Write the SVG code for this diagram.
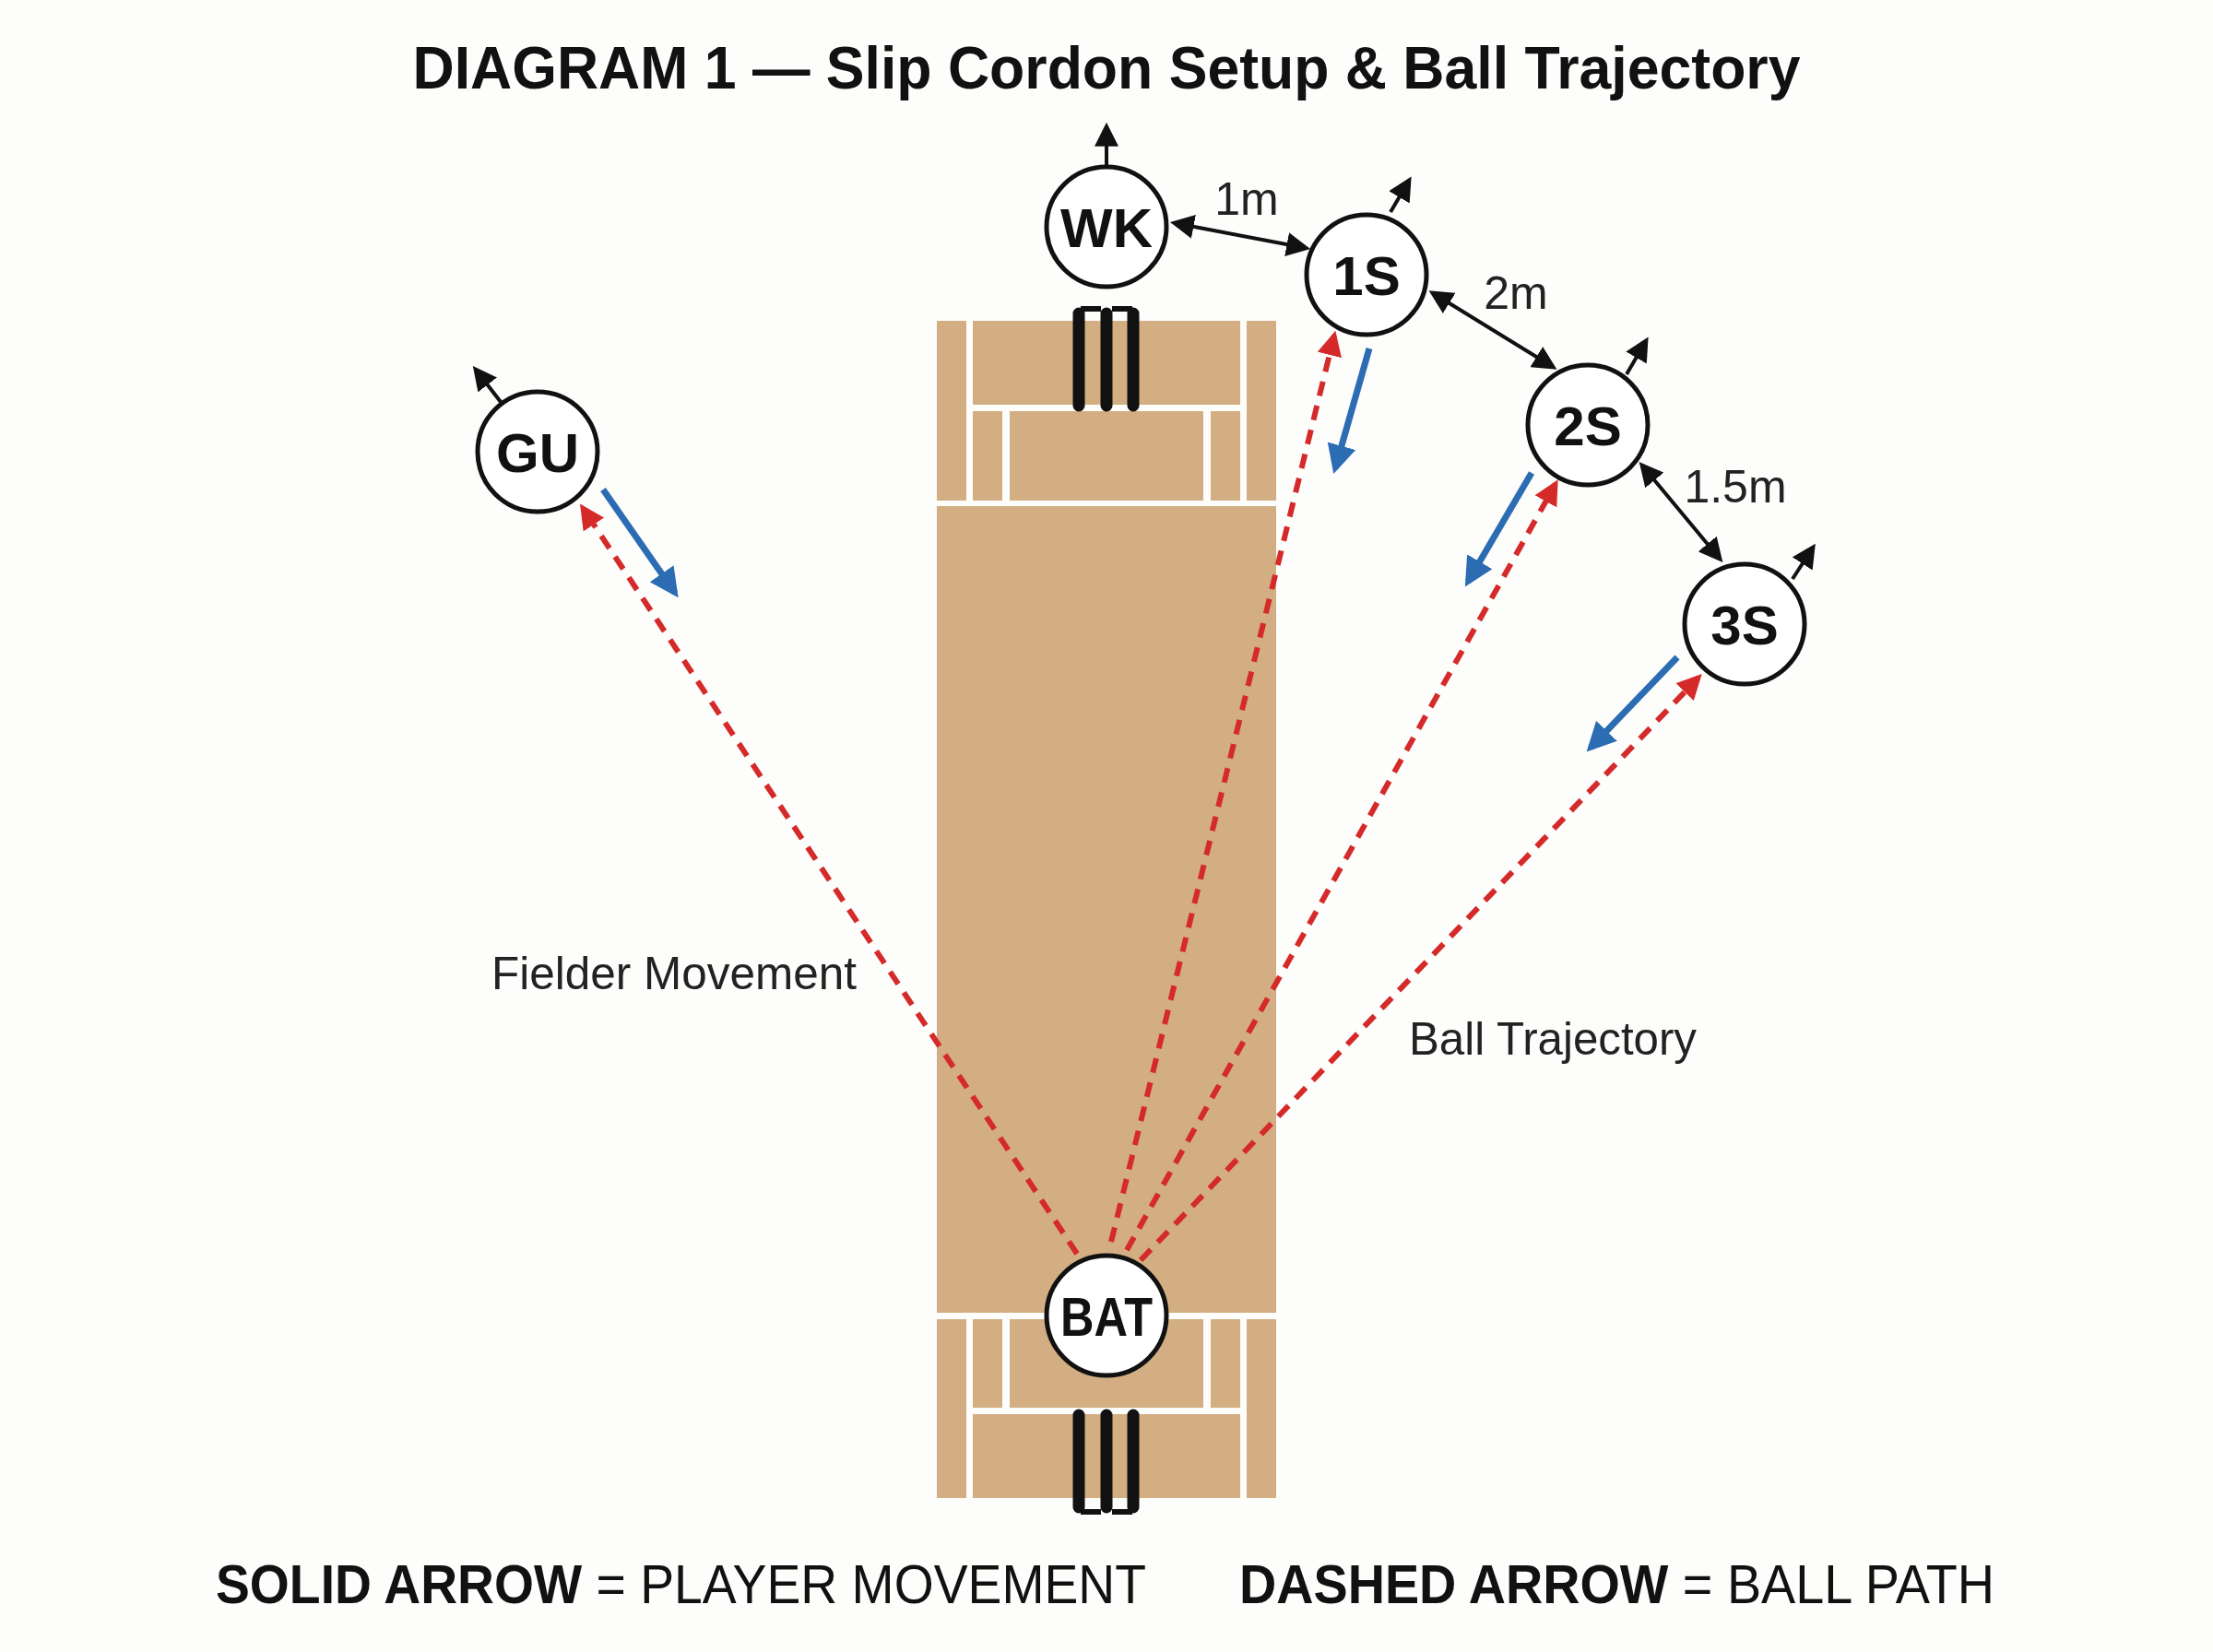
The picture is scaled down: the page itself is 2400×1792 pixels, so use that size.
<svg xmlns="http://www.w3.org/2000/svg" width="2400" height="1792" viewBox="0 0 2400 1792">
<style>
.pitch{fill:#d3ae82}
.stump{stroke:#111;stroke-width:13;stroke-linecap:round}
.node circle{fill:#fff;stroke:#111;stroke-width:5}
.node text{font-family:"Liberation Sans",Arial,sans-serif;font-weight:bold;font-size:60px;text-anchor:middle;fill:#111}
.blk{stroke:#111;stroke-width:4;fill:none}
.blue{stroke:#2b6cb3;stroke-width:7;fill:none}
.red{stroke:#d52a2a;stroke-width:6;fill:none;stroke-dasharray:16 11}
.lbl{font-family:"Liberation Sans",Arial,sans-serif;font-size:50px;fill:#222}
.leg{font-family:"Liberation Sans",Arial,sans-serif;font-size:60px;fill:#111}
</style>
<defs>
<marker id="ab" viewBox="0 0 10 10" refX="8" refY="5" markerWidth="6.5" markerHeight="6.5" orient="auto-start-reverse"><path d="M0,0 L10,5 L0,10 z" fill="#111"/></marker>
<marker id="ablue" viewBox="0 0 10 10" refX="8" refY="5" markerWidth="4.5" markerHeight="4.5" orient="auto"><path d="M0,0 L10,5 L0,10 z" fill="#2b6cb3"/></marker>
<marker id="ared" viewBox="0 0 10 10" refX="8" refY="5" markerWidth="4.5" markerHeight="4.5" orient="auto"><path d="M0,0 L10,5 L0,10 z" fill="#d52a2a"/></marker>
</defs>
<rect width="2400" height="1792" fill="#fdfdfb"/>
<text x="1200" y="96" text-anchor="middle" font-family="'Liberation Sans',Arial,sans-serif" font-weight="bold" font-size="64" fill="#111" textLength="1505" lengthAdjust="spacingAndGlyphs">DIAGRAM 1 — Slip Cordon Setup &amp; Ball Trajectory</text>
<g id="pitch">
<rect class="pitch" x="1016" y="348" width="32" height="195"/>
<rect class="pitch" x="1352" y="348" width="32" height="195"/>
<rect class="pitch" x="1055" y="348" width="290" height="91"/>
<rect class="pitch" x="1055" y="446" width="32" height="97"/>
<rect class="pitch" x="1095" y="446" width="210" height="97"/>
<rect class="pitch" x="1313" y="446" width="32" height="97"/>
<rect class="pitch" x="1016" y="549" width="368" height="875"/>
<rect class="pitch" x="1016" y="1431" width="32" height="194"/>
<rect class="pitch" x="1352" y="1431" width="32" height="194"/>
<rect class="pitch" x="1055" y="1431" width="32" height="96"/>
<rect class="pitch" x="1095" y="1431" width="210" height="96"/>
<rect class="pitch" x="1313" y="1431" width="32" height="96"/>
<rect class="pitch" x="1055" y="1534" width="290" height="91"/>
<path class="stump" d="M1170,340V440M1200,340V440M1229,340V440"/>
<path d="M1172,335h22M1206,335h22" stroke="#111" stroke-width="6"/>
<path class="stump" d="M1170,1535V1635M1200,1535V1635M1229,1535V1635"/>
<path d="M1172,1640h22M1206,1640h22" stroke="#111" stroke-width="6"/>
</g>
<g id="connectors">
<path class="red" marker-end="url(#ared)" d="M1168,1360L632,551"/>
<path class="red" marker-end="url(#ared)" d="M1205,1347L1447,364"/>
<path class="red" marker-end="url(#ared)" d="M1222,1356L1687,525"/>
<path class="red" marker-end="url(#ared)" d="M1237,1367L1842,735"/>
<path class="blue" marker-end="url(#ablue)" d="M654,531L732,643"/>
<path class="blue" marker-end="url(#ablue)" d="M1485,378L1448,508"/>
<path class="blue" marker-end="url(#ablue)" d="M1661,513L1592,631"/>
<path class="blue" marker-end="url(#ablue)" d="M1819,713L1725,811"/>
<path class="blk" marker-start="url(#ab)" marker-end="url(#ab)" d="M1274,242L1416,269"/>
<path class="blk" marker-start="url(#ab)" marker-end="url(#ab)" d="M1554,318L1684,398"/>
<path class="blk" marker-start="url(#ab)" marker-end="url(#ab)" d="M1781,505L1865,606"/>
<path class="blk" marker-end="url(#ab)" d="M1200,181L1200,138"/>
<path class="blk" marker-end="url(#ab)" d="M1508,230L1528,196"/>
<path class="blk" marker-end="url(#ab)" d="M1764,406L1785,370"/>
<path class="blk" marker-end="url(#ab)" d="M1944,628L1966,594"/>
<path class="blk" marker-end="url(#ab)" d="M543,436L516,401"/>
</g>
<g id="WK" class="node"><circle cx="1200" cy="246" r="65"/><text x="1200" y="268">WK</text></g>
<g id="S1" class="node"><circle cx="1482" cy="298" r="65"/><text x="1482" y="320">1S</text></g>
<g id="S2" class="node"><circle cx="1722" cy="461" r="65"/><text x="1722" y="483">2S</text></g>
<g id="S3" class="node"><circle cx="1892" cy="677" r="65"/><text x="1892" y="699">3S</text></g>
<g id="GU" class="node"><circle cx="583" cy="490" r="65"/><text x="583" y="512">GU</text></g>
<g id="BAT" class="node"><circle cx="1200" cy="1427" r="65"/><text x="1200" y="1449" textLength="100" lengthAdjust="spacingAndGlyphs">BAT</text></g>
<text class="lbl" x="1352" y="233" text-anchor="middle">1m</text>
<text class="lbl" x="1644" y="335" text-anchor="middle">2m</text>
<text class="lbl" x="1882" y="545" text-anchor="middle">1.5m</text>
<text class="lbl" x="533" y="1073" textLength="396" lengthAdjust="spacingAndGlyphs">Fielder Movement</text>
<text class="lbl" x="1528" y="1144" textLength="312" lengthAdjust="spacingAndGlyphs">Ball Trajectory</text>
<text class="leg" x="234" y="1739" textLength="1009" lengthAdjust="spacingAndGlyphs"><tspan font-weight="bold">SOLID ARROW</tspan> = PLAYER MOVEMENT</text>
<text class="leg" x="1344" y="1739" textLength="819" lengthAdjust="spacingAndGlyphs"><tspan font-weight="bold">DASHED ARROW</tspan> = BALL PATH</text>
</svg>
